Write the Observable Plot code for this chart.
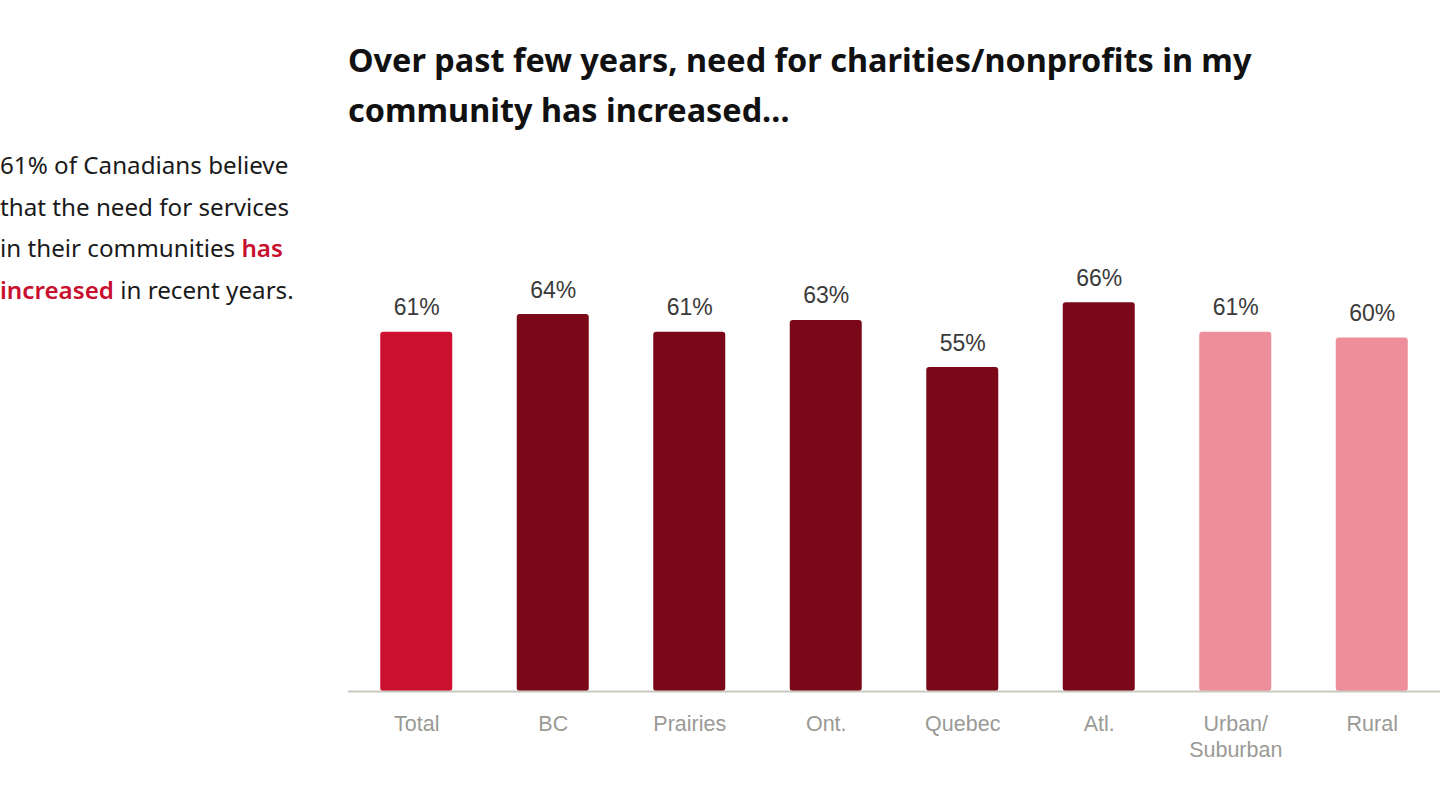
<!DOCTYPE html>
<html>
<head>
<meta charset="utf-8">
<script src="https://cdn.jsdelivr.net/npm/d3@7"></script>
<script src="https://cdn.jsdelivr.net/npm/@observablehq/plot@0.6"></script>
<style>
  html, body { margin: 0; padding: 0; background: #fff; }
  body { width: 1440px; height: 804px; position: relative; overflow: hidden; }
  #side {
    position: absolute; left: 0; top: 144px; width: 340px;
    font-family: "Noto Sans", sans-serif; font-size: 24.2px; line-height: 41.5px; color: #1a1a1a;
  }
  #side .hl { color: #c8102e; font-weight: 600; }
  #title {
    position: absolute; left: 348px; top: 34px; width: 1080px;
    font-family: "Noto Sans", sans-serif; font-weight: 700; font-size: 32.4px; line-height: 50px; color: #111;
  }
  #chart { position: absolute; left: 348px; top: 260px; }
</style>
</head>
<body>
<div id="title">Over past few years, need for charities/nonprofits in my<br>community has increased…</div>
<div id="side">61% of Canadians believe<br>that the need for services<br>in their communities <span class="hl">has</span><br><span class="hl">increased</span> in recent years.</div>
<div id="chart"></div>
<script>
const categories = ["Total", "BC", "Prairies", "Ont.", "Quebec", "Atl.", "Urban/\nSuburban", "Rural"];
const values = [61, 64, 61, 63, 55, 66, 61, 60];
const groups = ["total", "region", "region", "region", "region", "region", "community", "community"];
const groupColors = {total: "#cc1030", region: "#7a0818", community: "#ee8e9b"};

const data = categories.map((c, i) => ({category: c, value: values[i], group: groups[i]}));

const W = 1092, H = 520, base = 431;
const chart = Plot.plot({
  width: W,
  height: H,
  marginLeft: 0,
  marginRight: 0,
  marginTop: 0,
  marginBottom: H - base,
  style: {fontFamily: "'Liberation Sans', Arial, sans-serif", background: "transparent", overflow: "visible"},
  x: {domain: categories, paddingInner: 0.4725, paddingOuter: 0.23625, round: false, label: null},
  y: {domain: [0, 100], range: [base, base - 589], axis: null},
  color: {domain: Object.keys(groupColors), range: Object.values(groupColors)},
  marks: [
    Plot.barY(data, {x: "category", y: "value", fill: "group", rx: 3}),
    Plot.ruleY([0], {stroke: "#c9c9c0", strokeWidth: 2}),
    Plot.text(data, {x: "category", y: "value", text: d => d.value + "%", lineAnchor: "bottom", dy: -17, fontSize: 23, fill: "#3a3a3a"}),
    Plot.axisX({tickSize: 0, tickPadding: 21, fontSize: 21.5, fill: "#9a9a96", lineHeight: 1.2, label: null})
  ]
});
document.getElementById("chart").appendChild(chart);
</script>
</body>
</html>
